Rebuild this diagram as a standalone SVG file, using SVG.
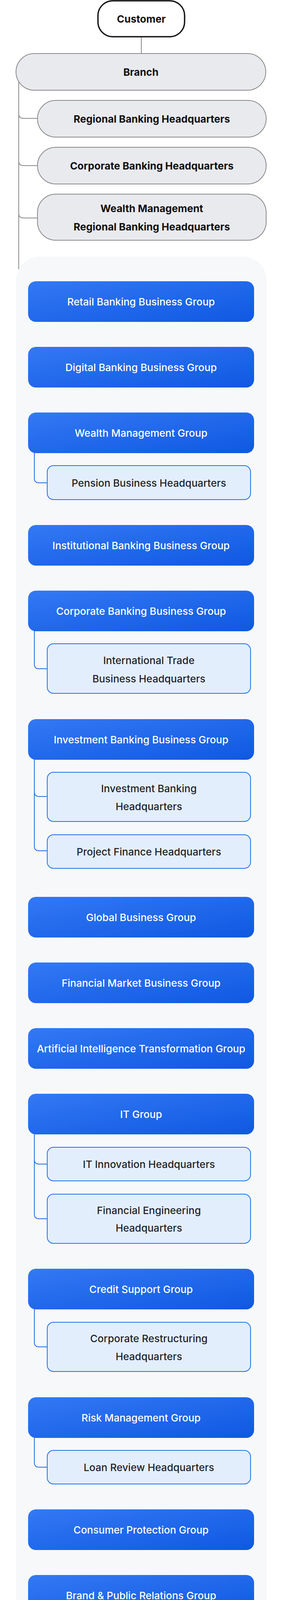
<svg xmlns="http://www.w3.org/2000/svg" width="720" height="5814" viewBox="0 0 720 5814">
<defs>
<linearGradient id="gBlue" x1="0" y1="0" x2="1" y2="1">
<stop offset="0" stop-color="#3379f5"/>
<stop offset="1" stop-color="#0f58e1"/>
</linearGradient>
<filter id="shadow" x="-20%" y="-20%" width="140%" height="160%">
<feDropShadow dx="0" dy="8" stdDeviation="12" flood-color="#000" flood-opacity="0.12"/>
</filter>
<style>
text{font-family:Inter,"Noto Sans","Liberation Sans",sans-serif;font-size:26px;text-anchor:middle;dominant-baseline:central}
.top{fill:#e9eaee;stroke:#8a8a8a;stroke-width:2}
.topt{fill:#111;font-weight:700}
.black{fill:#fff;stroke:#161616;stroke-width:3.5}
.blackt{fill:#1b1b1b;font-weight:600}
.grp{fill:url(#gBlue)}
.grpt{fill:#fff;font-weight:500}
.sub{fill:#e3eefc;stroke:#1f73e8;stroke-width:2}
.subn{fill:#e3eefc;stroke:#1b3393;stroke-width:2}
.subt{fill:#1f2328;font-weight:500}
.navy{fill:#152e8e}
.slate{fill:#617a97}
.whitet{fill:#fff;font-weight:600}
.cg{fill:none;stroke:#8a8a8a;stroke-width:2}
.cb{fill:none;stroke:#1f6fe6;stroke-width:2}
.cn{fill:none;stroke:#1b3393;stroke-width:2}
</style>
</defs>

<g id="connectors-back">
<path class="cg" d="M48,205 V5420 Q48,5432 60,5432 H74"/>
</g>

<rect id="container" x="41" y="657" width="642" height="4055" rx="60" fill="#f7f8fa"/>

<g id="connectors">
<path class="cg" d="M362,94 V137"/>
<path class="cg" d="M48,291 Q48,303 60,303 H96"/>
<path class="cg" d="M48,412 Q48,424 60,424 H96"/>
<path class="cg" d="M48,546 Q48,558 60,558 H96"/>
<path class="cg" d="M48,4895 Q48,4907 60,4907 H74"/>
<path class="cg" d="M280,4863 H314"/>
<path class="cg" d="M280,5430 H314"/>
<path class="cg" d="M498,5492 V5518"/>
<path class="cb" d="M88,1144 V1224 Q88,1236 100,1236 H121"/>
<path class="cb" d="M88,1600 V1700 Q88,1712 100,1712 H121"/>
<path class="cb" d="M88,1930 V2166 Q88,2178 100,2178 H121 M88,2027 Q88,2039 100,2039 H121"/>
<path class="cb" d="M88,2886 V3108 Q88,3120 100,3120 H121 M88,2968 Q88,2980 100,2980 H121"/>
<path class="cb" d="M88,3336 V3436 Q88,3448 100,3448 H121"/>
<path class="cb" d="M88,3664 V3744 Q88,3756 100,3756 H121"/>
<path class="cn" d="M316,4905 V5222 Q316,5234 328,5234 H351 M316,5028 Q316,5040 328,5040 H351"/>
<path class="cn" d="M316,5630 V5738 Q316,5750 328,5750 H351"/>
</g>

<g id="customer"><rect class="black" x="251" y="2" width="222" height="92" rx="38"/><text class="topt" x="362" y="48">Customer</text></g>
<g id="branch"><rect class="top" x="41" y="137" width="640" height="94" rx="47"/><text class="topt" x="361" y="184">Branch</text></g>
<g id="regional-banking-hq"><rect class="top" x="96" y="257" width="586" height="94" rx="47"/><text class="topt" x="389" y="304">Regional Banking Headquarters</text></g>
<g id="corporate-banking-hq"><rect class="top" x="96" y="377" width="586" height="94" rx="47"/><text class="topt" x="389" y="424">Corporate Banking Headquarters</text></g>
<g id="wealth-regional-hq"><rect class="top" x="96" y="497" width="586" height="118" rx="47"/><text class="topt" x="389" y="533">Wealth Management</text><text class="topt" x="389" y="580">Regional Banking Headquarters</text></g>

<g id="retail"><rect class="grp" x="72" y="720" width="579" height="104" rx="20"/><text class="grpt" x="361.5" y="772">Retail Banking Business Group</text></g>
<g id="digital"><rect class="grp" x="72" y="888" width="579" height="104" rx="20"/><text class="grpt" x="361.5" y="940">Digital Banking Business Group</text></g>
<g id="wealth-group"><rect class="grp" x="72" y="1056" width="579" height="104" rx="20"/><text class="grpt" x="361.5" y="1108">Wealth Management Group</text></g>
<g id="pension"><rect class="sub" x="121" y="1192" width="521" height="87" rx="16"/><text class="subt" x="381.5" y="1236">Pension Business Headquarters</text></g>
<g id="institutional"><rect class="grp" x="72" y="1344" width="579" height="104" rx="20"/><text class="grpt" x="361.5" y="1396">Institutional Banking Business Group</text></g>
<g id="corporate-group"><rect class="grp" x="72" y="1512" width="579" height="104" rx="20"/><text class="grpt" x="361.5" y="1564">Corporate Banking Business Group</text></g>
<g id="intl-trade"><rect class="sub" x="121" y="1648" width="521" height="127" rx="16"/><text class="subt" x="381.5" y="1690">International Trade</text><text class="subt" x="381.5" y="1737">Business Headquarters</text></g>
<g id="investment-group"><rect class="grp" x="72" y="1841" width="579" height="104" rx="20"/><text class="grpt" x="361.5" y="1893">Investment Banking Business Group</text></g>
<g id="investment-hq"><rect class="sub" x="121" y="1977" width="521" height="126" rx="16"/><text class="subt" x="381.5" y="2018">Investment Banking</text><text class="subt" x="381.5" y="2064">Headquarters</text></g>
<g id="project-finance"><rect class="sub" x="121" y="2137" width="521" height="86" rx="16"/><text class="subt" x="381.5" y="2180">Project Finance Headquarters</text></g>
<g id="global"><rect class="grp" x="72" y="2296" width="579" height="104" rx="20"/><text class="grpt" x="361.5" y="2348">Global Business Group</text></g>
<g id="financial-market"><rect class="grp" x="72" y="2464" width="579" height="104" rx="20"/><text class="grpt" x="361.5" y="2516">Financial Market Business Group</text></g>
<g id="ai"><rect class="grp" x="72" y="2632" width="579" height="104" rx="20"/><text class="grpt" x="361.5" y="2684">Artificial Intelligence Transformation Group</text></g>
<g id="it-group"><rect class="grp" x="72" y="2800" width="579" height="104" rx="20"/><text class="grpt" x="361.5" y="2852">IT Group</text></g>
<g id="it-innovation"><rect class="sub" x="121" y="2937" width="521" height="86" rx="16"/><text class="subt" x="381.5" y="2980">IT Innovation Headquarters</text></g>
<g id="fin-eng"><rect class="sub" x="121" y="3057" width="521" height="126" rx="16"/><text class="subt" x="381.5" y="3098">Financial Engineering</text><text class="subt" x="381.5" y="3143">Headquarters</text></g>
<g id="credit"><rect class="grp" x="72" y="3248" width="579" height="104" rx="20"/><text class="grpt" x="361.5" y="3300">Credit Support Group</text></g>
<g id="restructuring"><rect class="sub" x="121" y="3385" width="521" height="126" rx="16"/><text class="subt" x="381.5" y="3426">Corporate Restructuring</text><text class="subt" x="381.5" y="3472">Headquarters</text></g>
<g id="risk"><rect class="grp" x="72" y="3577" width="579" height="104" rx="20"/><text class="grpt" x="361.5" y="3629">Risk Management Group</text></g>
<g id="loan-review"><rect class="sub" x="121" y="3713" width="521" height="86" rx="16"/><text class="subt" x="381.5" y="3756">Loan Review Headquarters</text></g>
<g id="consumer"><rect class="grp" x="72" y="3864" width="579" height="104" rx="20"/><text class="grpt" x="361.5" y="3916">Consumer Protection Group</text></g>
<g id="brand"><rect class="grp" x="72" y="4032" width="579" height="104" rx="20"/><text class="grpt" x="361.5" y="4084">Brand &amp; Public Relations Group</text></g>
<g id="hr"><rect class="grp" x="72" y="4200" width="579" height="96" rx="20"/><text class="grpt" x="361.5" y="4248">Human Resources Group</text></g>
<g id="operation"><rect class="grp" x="72" y="4360" width="579" height="104" rx="20"/><text class="grpt" x="361.5" y="4412">Operation &amp; Support Group</text></g>
<g id="mgmt-finance"><rect class="grp" x="72" y="4528" width="579" height="104" rx="20"/><text class="grpt" x="361.5" y="4580">Management &amp; Finance Planning Group</text></g>

<g id="president"><rect class="black" x="74" y="4792" width="206" height="222" rx="36"/><text class="blackt" x="177" y="4845">President</text><text class="blackt" x="177" y="4884">&amp; Chief</text><text class="blackt" x="177" y="4922">Executive</text><text class="blackt" x="177" y="4960">Officer</text></g>
<g id="cco"><rect class="navy" x="314" y="4792" width="369" height="131" rx="42"/><text class="whitet" x="498.5" y="4835">Chief Compliance</text><text class="whitet" x="498.5" y="4882">Officer</text></g>
<g id="aml"><rect class="subn" x="351" y="4957" width="327" height="168" rx="16"/><text class="subt" x="514.5" y="5003">Anti-Money</text><text class="subt" x="514.5" y="5042">Laundering</text><text class="subt" x="514.5" y="5080">Headquarters</text></g>
<g id="infosec"><rect class="subn" x="351" y="5159" width="327" height="130" rx="16"/><text class="subt" x="514.5" y="5205">Information Security</text><text class="subt" x="514.5" y="5243">Headquarters</text></g>

<g id="board"><rect class="black" x="74" y="5355" width="206" height="152" rx="36"/><text class="blackt" x="177" y="5408">Board of</text><text class="blackt" x="177" y="5454">Directors</text></g>
<g id="board-audit"><rect class="slate" x="314" y="5354" width="369" height="138" rx="42" filter="url(#shadow)"/><text class="whitet" x="498.5" y="5400">Board Audit</text><text class="whitet" x="498.5" y="5447">Committee</text></g>
<g id="standing-audit"><rect class="navy" x="314" y="5518" width="369" height="131" rx="42"/><text class="whitet" x="498.5" y="5561">Standing Audit</text><text class="whitet" x="498.5" y="5607">Committee Member</text></g>
<g id="audit-hq"><rect class="subn" x="351" y="5683" width="327" height="129" rx="16"/><text class="subt" x="514.5" y="5728">Audit</text><text class="subt" x="514.5" y="5767">Headquarters</text></g>
</svg>
